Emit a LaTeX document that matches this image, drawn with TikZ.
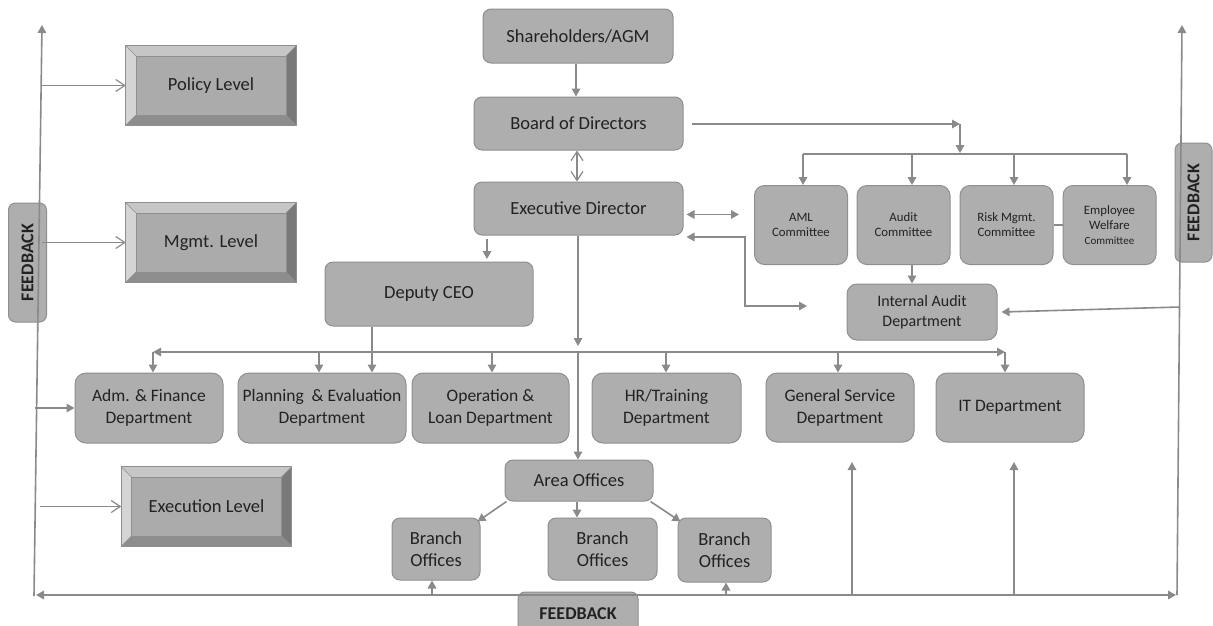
\documentclass[tikz,border=0pt]{standalone}
\usepackage{fontspec}
\setmainfont{Carlito}
\usetikzlibrary{arrows.meta,calc}
\definecolor{boxfill}{HTML}{AEAEAE}
\definecolor{boxline}{HTML}{8F8F8F}
\definecolor{lin}{HTML}{8A8A8A}
\definecolor{txt}{HTML}{222222}
\definecolor{bvface}{HTML}{ABABAB}
\definecolor{bvtop}{HTML}{C6C6C6}
\definecolor{bvleft}{HTML}{D4D4D4}
\definecolor{bvright}{HTML}{797979}
\definecolor{bvbottom}{HTML}{8D8D8D}
\newcommand\bevelize[1]{%
  \fill[bvtop] (#1.north west) -- (#1.north east) -- ($(#1.north east)+(-10,10)$) -- ($(#1.north west)+(10,10)$) -- cycle;
  \fill[bvleft] (#1.north west) -- ($(#1.north west)+(10,10)$) -- ($(#1.south west)+(10,-10)$) -- (#1.south west) -- cycle;
  \fill[bvright] (#1.north east) -- ($(#1.north east)+(-10,10)$) -- ($(#1.south east)+(-10,-10)$) -- (#1.south east) -- cycle;
  \fill[bvbottom] (#1.south west) -- ($(#1.south west)+(10,-10)$) -- ($(#1.south east)+(-10,-10)$) -- (#1.south east) -- cycle;
  \draw[boxline, line width=0.8pt] (#1.north west) rectangle (#1.south east);
  \draw[boxline, line width=0.5pt] ($(#1.north west)+(10,10)$) rectangle ($(#1.south east)+(-10,-10)$);
  \draw[boxline, line width=0.5pt] (#1.north west) -- ($(#1.north west)+(10,10)$)
     (#1.north east) -- ($(#1.north east)+(-10,10)$)
     (#1.south west) -- ($(#1.south west)+(10,-10)$)
     (#1.south east) -- ($(#1.south east)+(-10,-10)$);
}
\begin{document}
\begin{tikzpicture}[x=1pt,y=-1pt,
  box/.style={draw=boxline, fill=boxfill, rounded corners=8pt, line width=1pt, text=txt,
    align=center, inner sep=0pt, font=\fontsize{18.5}{22}\selectfont},
  dept/.style={box, rounded corners=11pt, font=\fontsize{17.5}{22}\selectfont},
  comm/.style={box, rounded corners=10pt, font=\fontsize{12.8}{15}\selectfont},
  fbbox/.style={box, rounded corners=7pt, font=\fontsize{18}{20}\selectfont\bfseries},
  bevel/.style={fill=bvface, inner sep=0pt, minimum width=170pt, minimum height=79pt},
  lvl/.style={text=txt, font=\fontsize{18.5}{22}\selectfont},
  fbtext/.style={rotate=90, text=txt, font=\fontsize{18}{20}\selectfont\bfseries},
  ln/.style={draw=lin, line width=1.6pt},
  arr/.style={ln, -{Triangle[length=8pt,width=8.5pt]}},
  darr/.style={ln, {Triangle[length=8pt,width=8.5pt]}-{Triangle[length=8pt,width=8.5pt]}},
  oarr/.style={ln, -{Straight Barb[length=9pt,width=12pt,line width=1.2pt]}},
  odarr/.style={ln, {Straight Barb[length=9pt,width=12pt,line width=1.2pt]}-{Straight Barb[length=9pt,width=12pt,line width=1.2pt]}},
]
\useasboundingbox (0,0) rectangle (1213,625);

% ---------- level boxes ----------
\node[bevel] (policy) at (211,85.5) {};
\bevelize{policy}
\node[bevel] (mgmt) at (211,242.5) {};
\bevelize{mgmt}
\node[bevel] (exec) at (206.5,506.5) {};
\bevelize{exec}
\node[lvl] (policyt) at (policy) {Policy Level};
\node[lvl] (mgmtt) at (mgmt) {Mgmt. Level};
\node[lvl] (exect) at (exec) {Execution Level};

% ---------- feedback boxes ----------
\node[fbbox, minimum width=38pt, minimum height=119pt] (fbl) at (27.5,262.5) {};
\node[fbtext] (fblt) at (fbl) {FEEDBACK};
\node[fbbox, minimum width=37pt, minimum height=119pt] (fbr) at (1193.5,202.5) {};
\node[fbtext] (fbrt) at (fbr) {FEEDBACK};
\node[fbbox, minimum width=120pt, minimum height=44pt] (fbb) at (578,614) {FEEDBACK};

% ---------- main chain ----------
\node[box, minimum width=190pt, minimum height=54pt] (sh) at (578,36) {Shareholders/AGM};
\node[box, minimum width=209pt, minimum height=53pt] (bod) at (578.5,123.5) {Board of Directors};
\node[box, minimum width=209pt, minimum height=53pt] (ed) at (578.5,208.5) {Executive Director};
\node[box, minimum width=208pt, minimum height=64pt] (dep) at (429,294) {Deputy CEO};

% ---------- committees ----------
\node[comm, minimum width=93pt, minimum height=79pt] (aml) at (801,225) {AML\\Committee};
\node[comm, minimum width=93pt, minimum height=79pt] (aud) at (903.5,225) {Audit\\Committee};
\node[comm, minimum width=93pt, minimum height=79pt] (risk) at (1006.5,225) {Risk Mgmt.\\Committee};
\node[comm, minimum width=93pt, minimum height=79pt] (emp) at (1109.5,225) {Employee\\Welfare\\{\fontsize{11}{14}\selectfont Committee}};
\node[box, rounded corners=10pt, minimum width=150pt, minimum height=56pt, font=\fontsize{16}{20}\selectfont] (ia) at (922,312) {Internal Audit\\Department};

% ---------- departments ----------
\node[dept, minimum width=148pt, minimum height=70pt] (adm) at (149,408) {Adm. \& Finance\\Department};
\node[dept, minimum width=168pt, minimum height=70pt] (plan) at (322,408) {Planning~ \& Evaluation\\Department};
\node[dept, minimum width=157pt, minimum height=70pt] (op) at (490.5,408) {Operation \&\\Loan Department};
\node[dept, minimum width=149pt, minimum height=70pt] (hr) at (666.5,408) {HR/Training\\Department};
\node[dept, minimum width=148pt, minimum height=69pt] (gs) at (840,407.5) {General Service\\Department};
\node[dept, minimum width=148pt, minimum height=69pt] (it) at (1010,407.5) {IT Department};

% ---------- offices ----------
\node[box, minimum width=148pt, minimum height=41pt] (area) at (579,480.5) {Area Offices};
\node[box, minimum width=88pt, minimum height=62pt] (b1) at (436,549) {Branch\\Offices};
\node[box, minimum width=109pt, minimum height=62pt] (b2) at (602.5,549) {Branch\\Offices};
\node[box, minimum width=93pt, minimum height=64pt] (b3) at (724.5,550) {Branch\\Offices};

% ---------- coordinates ----------
\coordinate (lt) at (42,25);
\coordinate (lb) at (34,596);
\coordinate (rt) at (1182,25);
\coordinate (rb) at (1177,595);
\coordinate (bm) at (578,595);
\coordinate (bl) at (36,595);
\coordinate (br) at (1176,595);
\coordinate (exs) at (40,506.5);
\coordinate (adms) at (35,408);
\coordinate (ia0) at (1180,307);
\coordinate (bodr) at (692,124);
\coordinate (cj) at (960,124);
\coordinate (cbl) at (803,154);
\coordinate (cbr) at (1127,154);
\coordinate (cb2) at (912,154);
\coordinate (cb3) at (1014,154);
\coordinate (edb) at (578,346);
\coordinate (busl) at (153,352);
\coordinate (busr) at (1005,352);
\coordinate (busc) at (578,352);
\coordinate (bp) at (319,352);
\coordinate (bd) at (372,352);
\coordinate (bo) at (492,352);
\coordinate (bh) at (666,352);
\coordinate (bg) at (838,352);
\coordinate (elb) at (745,237);
\coordinate (elr) at (807,306);
\coordinate (u1) at (432,595);
\coordinate (u3) at (726,595);
\coordinate (u4) at (852,595);
\coordinate (u4t) at (852,462);
\coordinate (u5) at (1014,595);
\coordinate (u5t) at (1014,462);

% ---------- feedback loop ----------
\draw[arr] (lb) -- (lt);
\draw[arr] (rb) -- (rt);
\draw[arr] (bm) -- (bl);
\draw[arr] (bm) -- (br);
\draw[oarr] (policy.west -| lt) -- (policy.west);
\draw[oarr] (mgmt.west -| lt) -- (mgmt.west);
\draw[oarr] (exs) -- (exec.west);
\draw[arr] (adms) -- (adm.west);
\draw[arr] (ia0) -- ($(ia.east)+(4,0)$);
\draw[arr] (u1) -- (u1 |- b1.south);
\draw[arr] (u3) -- (u3 |- b3.south);
\draw[arr] (u4) -- (u4t);
\draw[arr] (u5) -- (u5t);

% ---------- top chain ----------
\draw[arr] (sh.south -| 576,0) -- (bod.north -| 576,0);
\draw[odarr] (bod.south -| 577,0) -- (ed.north -| 577,0);
\draw[arr] (ed.south -| 487,0) ++(0,3) -- (487,259);
\draw[arr] (bodr) -- (cj);
\draw[arr] (cj) -- (960,153);
\draw[ln] (cbl) -- (cbr);
\draw[arr] (cbl) -- (cbl |- aml.north);
\draw[arr] (cb2) -- (cb2 |- aud.north);
\draw[arr] (cb3) -- (cb3 |- risk.north);
\draw[arr] (cbr) -- (cbr |- emp.north);
\draw[ln] (risk.east) -- (emp.west);
\draw[arr] (aud.south -| 912,0) -- (ia.north -| 912,0);
\draw[darr] ($(ed.east)+(3,6)$) -- (739,214.5);
\draw[darr] ($(ed.east)+(3,28.5)$) -- (elb) -- (elb |- elr) -- (elr);

% ---------- department bus ----------
\draw[arr] (ed.south -| edb) -- (edb);
\draw[arr] (busc) -- (busl);
\draw[arr] (busc) -- (busr);
\draw[arr] (busl) -- (busl |- adm.north);
\draw[arr] (busr) -- (busr |- it.north);
\draw[arr] (bp) -- (bp |- plan.north);
\draw[arr] (dep.south -| bd) -- (bd |- plan.north);
\draw[arr] (bo) -- (bo |- op.north);
\draw[arr] (bh) -- (bh |- hr.north);
\draw[arr] (bg) -- (bg |- gs.north);
\draw[arr] (busc) -- (area.north -| busc);

% ---------- area to branches ----------
\draw[arr] ($(area.south west)+(2,0)$) -- ($(b1.north east)+(-3,4)$);
\draw[arr] (area.south -| 577,0) -- (b2.north -| 577,0);
\draw[arr] ($(area.south east)+(-3,0)$) -- ($(b3.north west)+(3,4)$);
\end{tikzpicture}
\end{document}
